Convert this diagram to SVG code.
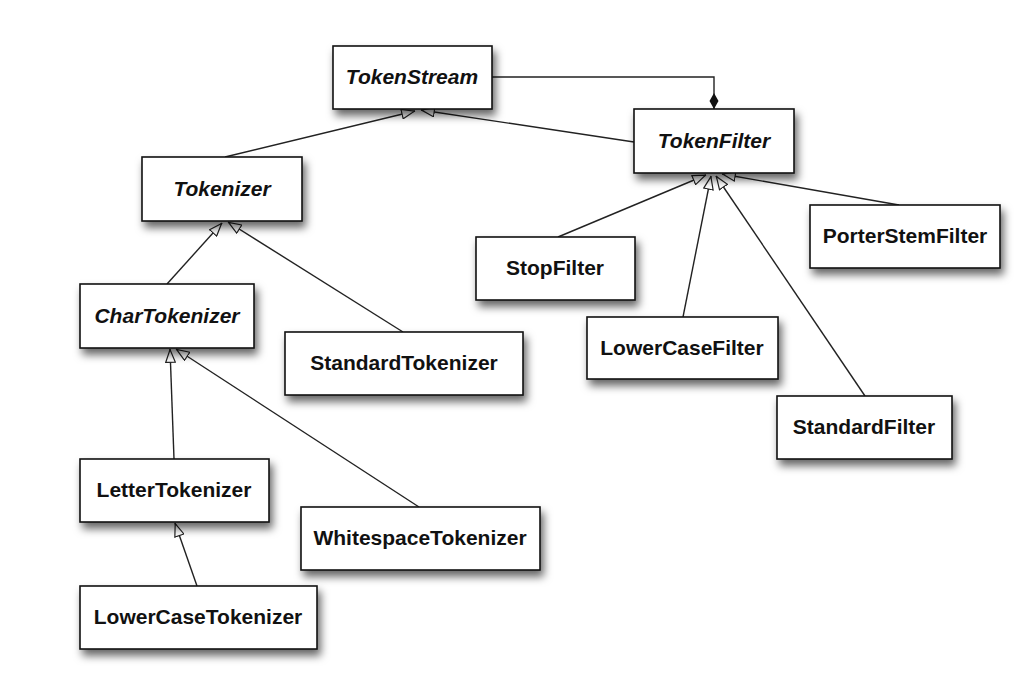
<svg xmlns="http://www.w3.org/2000/svg" width="1018" height="675" viewBox="0 0 1018 675">
<defs>
<filter id="shadow" x="-20%" y="-30%" width="150%" height="180%">
<feDropShadow dx="3" dy="6" stdDeviation="4" flood-color="#000" flood-opacity="0.6"/>
</filter>
<marker id="gen" viewBox="0 0 14 11" refX="14" refY="5.5" markerWidth="14" markerHeight="11" markerUnits="userSpaceOnUse" orient="auto">
<path d="M0.7,0.7 L13.4,5.5 L0.7,10.3 Z" fill="#fff" stroke="#222" stroke-width="1.2"/>
</marker>
<marker id="comp" viewBox="0 0 16 10" refX="16" refY="5" markerWidth="16" markerHeight="10" markerUnits="userSpaceOnUse" orient="auto">
<path d="M0,5 L8,0.5 L16,5 L8,9.5 Z" fill="#111"/>
</marker>
</defs>
<style>
.box{fill:#fff;stroke:#111;stroke-width:1.6;filter:url(#shadow)}
.lbl{font-family:"Liberation Sans",Arial,sans-serif;font-weight:bold;font-size:21px;fill:#111;text-anchor:middle}
.abs{font-style:italic}
.edge{fill:none;stroke:#222;stroke-width:1.4}
.g{marker-end:url(#gen)}
.c{marker-end:url(#comp)}
</style>
<rect width="1018" height="675" fill="#fff"/>
<g id="connectors">
<path class="edge g" d="M225,157 L415,111"/>
<path class="edge g" d="M634,142 L421,110"/>
<path class="edge c" d="M492,77 H714 V109"/>
<path class="edge g" d="M167,284 L222,223"/>
<path class="edge g" d="M403,332 L228,222"/>
<path class="edge g" d="M174,459 L170,349"/>
<path class="edge g" d="M419,507 L176,349"/>
<path class="edge g" d="M197,586 L175,523"/>
<path class="edge g" d="M558,237 L706,175"/>
<path class="edge g" d="M683,317 L711,176"/>
<path class="edge g" d="M865,396 L716,176"/>
<path class="edge g" d="M899,205 L722,174"/>
</g>
<g id="TokenStream"><rect class="box" x="333" y="46" width="159" height="63"/><text class="lbl abs" x="412" y="84">TokenStream</text></g>
<g id="TokenFilter"><rect class="box" x="634" y="109" width="160" height="64"/><text class="lbl abs" x="714" y="148">TokenFilter</text></g>
<g id="Tokenizer"><rect class="box" x="142" y="157" width="160" height="64"/><text class="lbl abs" x="222" y="196">Tokenizer</text></g>
<g id="CharTokenizer"><rect class="box" x="80" y="284" width="174" height="64"/><text class="lbl abs" x="167" y="323">CharTokenizer</text></g>
<g id="StandardTokenizer"><rect class="box" x="285" y="332" width="238" height="63"/><text class="lbl" x="404" y="370">StandardTokenizer</text></g>
<g id="StopFilter"><rect class="box" x="476" y="237" width="159" height="63"/><text class="lbl" x="555" y="275">StopFilter</text></g>
<g id="PorterStemFilter"><rect class="box" x="810" y="205" width="190" height="63"/><text class="lbl" x="905" y="243">PorterStemFilter</text></g>
<g id="LowerCaseFilter"><rect class="box" x="587" y="317" width="191" height="62"/><text class="lbl" x="682" y="355">LowerCaseFilter</text></g>
<g id="StandardFilter"><rect class="box" x="777" y="396" width="175" height="63"/><text class="lbl" x="864" y="434">StandardFilter</text></g>
<g id="LetterTokenizer"><rect class="box" x="80" y="459" width="189" height="63"/><text class="lbl" x="174" y="497">LetterTokenizer</text></g>
<g id="WhitespaceTokenizer"><rect class="box" x="301" y="507" width="239" height="63"/><text class="lbl" x="420" y="545">WhitespaceTokenizer</text></g>
<g id="LowerCaseTokenizer"><rect class="box" x="80" y="586" width="237" height="63"/><text class="lbl" x="198" y="624">LowerCaseTokenizer</text></g>
</svg>
